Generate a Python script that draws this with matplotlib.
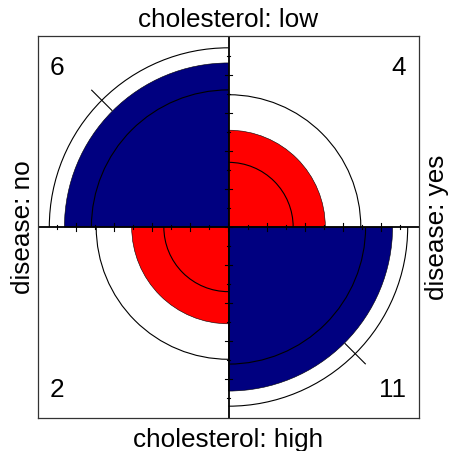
import numpy as np
import matplotlib
matplotlib.use("Agg")
import matplotlib.pyplot as plt
from matplotlib.patches import Wedge, Arc

plt.rcParams['font.family'] = ['Liberation Sans', 'DejaVu Sans']

# 2x2 table: rows = cholesterol, columns = disease
row_name = "cholesterol"
col_name = "disease"
row_levels = ["low", "high"]
col_levels = ["no", "yes"]
counts_low = [6, 4]
counts_high = [2, 11]
conf_level = 0.95

fill_colors = ["#000080", "#ff0000"]   # concordant / discordant cells


def std_cells(odds_ratio):
    # margins-standardised 2x2 table (rows and columns equal)
    s = np.sqrt(odds_ratio)
    return s / (1 + s), 1 / (1 + s)


table = np.array([counts_low, counts_high], dtype=float)
log_or = np.log(table[0, 0] * table[1, 1] / (table[0, 1] * table[1, 0]))
se = np.sqrt((1 / table).sum())
z = 1.959964 if conf_level == 0.95 else 1.96

a_mid, b_mid = std_cells(np.exp(log_or))
a_lo, b_lo = std_cells(np.exp(log_or - z * se))
a_hi, b_hi = std_cells(np.exp(log_or + z * se))

# quadrant angles: TL, TR, BL, BR
angles = [(90, 180), (0, 90), (180, 270), (270, 360)]
cells = [table[0, 0], table[0, 1], table[1, 0], table[1, 1]]
diag = [True, False, False, True]

fig = plt.figure(figsize=(4.54, 4.51), dpi=100)
ax = fig.add_axes([38 / 454, 33.5 / 451, 381 / 454, 381 / 451])
ax.set_xlim(-1, 1)
ax.set_ylim(-1, 1)
ax.set_aspect('equal')
ax.set_xticks([])
ax.set_yticks([])
for sp in ax.spines.values():
    sp.set_linewidth(0.9)
    sp.set_color('#333333')

for (t1, t2), is_diag in zip(angles, diag):
    r = np.sqrt(a_mid if is_diag else b_mid)
    ax.add_patch(Wedge((0, 0), r, t1, t2,
                       facecolor=fill_colors[0] if is_diag else fill_colors[1],
                       edgecolor='black', linewidth=0.4))
    for rr in ([a_lo, a_hi] if is_diag else [b_lo, b_hi]):
        d = 2 * np.sqrt(rr)
        ax.add_patch(Arc((0, 0), d, d, theta1=t1, theta2=t2,
                         color='black', linewidth=0.8))

# small radial marks across the outer ring of the concordant cells
r_out = np.sqrt(a_hi)
for ang in [135, 315]:
    th = np.deg2rad(ang)
    rs = np.array([r_out - 0.075, r_out + 0.075])
    ax.plot(rs * np.cos(th), rs * np.sin(th), color='black', linewidth=0.8)

# centre cross with ticks
ax.plot([-1, 1], [0, 0], color='black', linewidth=1.3, solid_capstyle='butt')
ax.plot([0, 0], [-1, 1], color='black', linewidth=1.3, solid_capstyle='butt')
for j in np.arange(-0.8, 0.81, 0.2):
    ax.plot([j, j], [-0.02, 0.02], color='black', linewidth=0.8)
    ax.plot([-0.02, 0.02], [j, j], color='black', linewidth=0.8)
for j in np.arange(-0.9, 0.91, 0.2):
    ax.plot([j, j], [-0.01, 0.01], color='black', linewidth=0.8)
    ax.plot([-0.01, 0.01], [j, j], color='black', linewidth=0.8)

fs = 18.8
# cell counts
ax.text(-0.94, 0.80, f"{cells[0]:g}", ha='left', va='baseline', fontsize=fs)
ax.text(0.93, 0.80, f"{cells[1]:g}", ha='right', va='baseline', fontsize=fs)
ax.text(-0.94, -0.89, f"{cells[2]:g}", ha='left', va='baseline', fontsize=fs)
ax.text(0.93, -0.89, f"{cells[3]:g}", ha='right', va='baseline', fontsize=fs)

# margin labels
ax.text(0, 1.05, f"{row_name}: {row_levels[0]}", ha='center', va='baseline',
        fontsize=fs, clip_on=False)
ax.text(0, -1.153, f"{row_name}: {row_levels[1]}", ha='center', va='baseline',
        fontsize=fs, clip_on=False)
ax.text(-1.042, 0, f"{col_name}: {col_levels[0]}", rotation=90,
        rotation_mode='anchor', ha='center', va='baseline', fontsize=fs,
        clip_on=False)
ax.text(1.131, 0, f"{col_name}: {col_levels[1]}", rotation=90,
        rotation_mode='anchor', ha='center', va='baseline', fontsize=fs,
        clip_on=False)

fig.savefig("out.png", dpi=100)
